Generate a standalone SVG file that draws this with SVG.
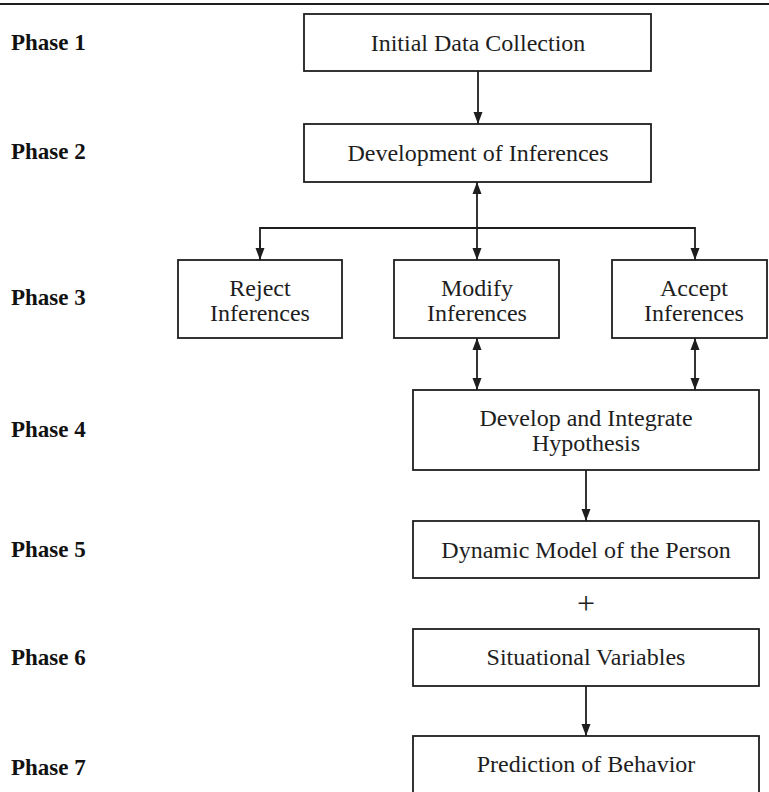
<svg xmlns="http://www.w3.org/2000/svg" width="769" height="792" viewBox="0 0 769 792">
<style>
.bg{fill:#ffffff}
.box{fill:#ffffff;stroke:#1e1e1e;stroke-width:1.8}
.t{font-family:"Liberation Serif","Times New Roman",serif;font-size:24px;fill:#1e1e1e;text-anchor:middle}
.ph{font-family:"Liberation Serif","Times New Roman",serif;font-size:23px;font-weight:bold;fill:#111}
.ln{stroke:#1e1e1e;stroke-width:1.8;fill:none}
</style>
<defs>
<marker id="ah" viewBox="0 0 12 10" refX="12" refY="5" markerWidth="12" markerHeight="10" markerUnits="userSpaceOnUse" orient="auto-start-reverse">
<path d="M0,0.5 L12,5 L0,9.5 z" fill="#1e1e1e"/>
</marker>
</defs>
<rect class="bg" x="0" y="0" width="769" height="792"/>
<line x1="0" y1="4" x2="769" y2="4" stroke="#1e1e1e" stroke-width="2"/>
<g id="labels">
<text class="ph" x="11" y="50">Phase 1</text>
<text class="ph" x="11" y="159">Phase 2</text>
<text class="ph" x="11" y="305">Phase 3</text>
<text class="ph" x="11" y="437">Phase 4</text>
<text class="ph" x="11" y="557">Phase 5</text>
<text class="ph" x="11" y="665">Phase 6</text>
<text class="ph" x="11" y="775">Phase 7</text>
</g>
<g id="connectors">
<line class="ln" x1="478" y1="71" x2="478" y2="124" marker-end="url(#ah)"/>
<line class="ln" x1="477" y1="182" x2="477" y2="260" marker-start="url(#ah)" marker-end="url(#ah)"/>
<polyline class="ln" points="260,260 260,228 695,228 695,260" marker-end="url(#ah)"/>
<line class="ln" x1="260" y1="240" x2="260" y2="260" marker-end="url(#ah)"/>
<line class="ln" x1="477" y1="338" x2="477" y2="390" marker-start="url(#ah)" marker-end="url(#ah)"/>
<line class="ln" x1="695" y1="338" x2="695" y2="390" marker-start="url(#ah)" marker-end="url(#ah)"/>
<line class="ln" x1="586" y1="470" x2="586" y2="521" marker-end="url(#ah)"/>
<line class="ln" x1="586" y1="686" x2="586" y2="736" marker-end="url(#ah)"/>
</g>
<g id="n1"><rect class="box" x="304" y="14" width="347" height="57"/><text class="t" x="478" y="51">Initial Data Collection</text></g>
<g id="n2"><rect class="box" x="304" y="124" width="347" height="58"/><text class="t" x="478" y="161">Development of Inferences</text></g>
<g id="n3"><rect class="box" x="178" y="260" width="164" height="78"/><text class="t" x="260" y="296">Reject</text><text class="t" x="260" y="321">Inferences</text></g>
<g id="n4"><rect class="box" x="394" y="260" width="165" height="78"/><text class="t" x="477" y="296">Modify</text><text class="t" x="477" y="321">Inferences</text></g>
<g id="n5"><rect class="box" x="612" y="260" width="155" height="78"/><text class="t" x="694" y="296">Accept</text><text class="t" x="694" y="321">Inferences</text></g>
<g id="n6"><rect class="box" x="413" y="390" width="346" height="80"/><text class="t" x="586" y="426">Develop and Integrate</text><text class="t" x="586" y="451">Hypothesis</text></g>
<g id="n7"><rect class="box" x="413" y="521" width="346" height="57"/><text class="t" x="586" y="558">Dynamic Model of the Person</text></g>
<g id="plus"><text class="t" x="586" y="614" style="font-size:32px">+</text></g>
<g id="n8"><rect class="box" x="413" y="629" width="346" height="57"/><text class="t" x="586" y="665">Situational Variables</text></g>
<g id="n9"><rect class="box" x="413" y="736" width="346" height="80"/><text class="t" x="586" y="772">Prediction of Behavior</text></g>
</svg>
